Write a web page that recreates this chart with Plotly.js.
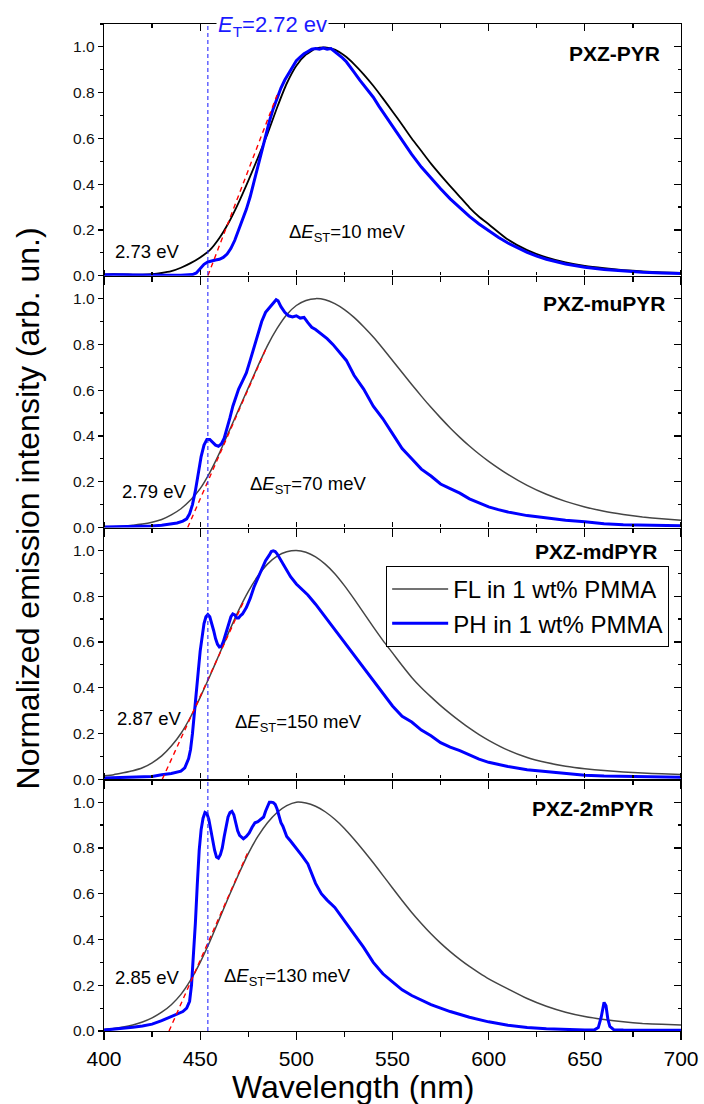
<!DOCTYPE html>
<html><head><meta charset="utf-8">
<script src="https://cdn.plot.ly/plotly-3.0.1.min.js"></script>
<style>html,body{margin:0;padding:0;background:#fff}#chart{width:704px;height:1104px}</style>
</head><body><div id="chart"></div>
<script>
// ---------- data ----------
const panelNames = ['PXZ-PYR', 'PXZ-muPYR', 'PXZ-mdPYR', 'PXZ-2mPYR'];
const onsetLabels = ['2.73 eV', '2.79 eV', '2.87 eV', '2.85 eV'];
const deltaEstMeV = ['10', '70', '150', '130'];
const tripletLabel = '2.72 ev';
const tripletNm = [454];
const legendNames = ['FL in 1 wt% PMMA', 'PH in 1 wt% PMMA'];

const flWl = [400,405,410,415,420,425,430,435,440,445,450,455,460,465,470,475,480,485,490,495,500,505,510,515,520,525,530,535,540,545,550,555,560,565,570,575,580,585,590,595,600,610,620,630,640,650,660,670,680,690,700];
const fl1 = [0.005,0.007,0.006,0.005,0.005,0.007,0.012,0.020,0.035,0.055,0.080,0.112,0.165,0.235,0.320,0.415,0.515,0.620,0.735,0.840,0.918,0.966,0.992,0.998,0.988,0.962,0.925,0.880,0.830,0.775,0.718,0.660,0.600,0.545,0.490,0.440,0.392,0.345,0.298,0.258,0.225,0.158,0.112,0.080,0.058,0.043,0.033,0.025,0.019,0.015,0.012];
const fl2 = [0.002,0.003,0.005,0.010,0.015,0.023,0.035,0.055,0.082,0.120,0.170,0.240,0.325,0.420,0.515,0.610,0.705,0.795,0.870,0.930,0.970,0.992,1.000,0.995,0.978,0.952,0.918,0.877,0.832,0.782,0.730,0.677,0.625,0.574,0.525,0.479,0.435,0.394,0.356,0.321,0.289,0.232,0.184,0.145,0.114,0.090,0.071,0.057,0.046,0.038,0.032];
const fl3 = [0.015,0.020,0.028,0.037,0.050,0.072,0.102,0.145,0.200,0.272,0.358,0.450,0.547,0.645,0.738,0.820,0.888,0.940,0.975,0.994,1.000,0.992,0.972,0.940,0.898,0.846,0.788,0.727,0.666,0.607,0.552,0.497,0.445,0.400,0.360,0.322,0.287,0.254,0.223,0.195,0.170,0.127,0.095,0.073,0.057,0.046,0.038,0.032,0.027,0.024,0.021];
const fl4 = [0.007,0.011,0.017,0.026,0.039,0.057,0.082,0.115,0.160,0.222,0.300,0.390,0.490,0.590,0.685,0.775,0.850,0.910,0.955,0.985,1.000,0.996,0.982,0.958,0.925,0.885,0.838,0.788,0.735,0.680,0.625,0.570,0.518,0.470,0.425,0.384,0.347,0.313,0.282,0.254,0.228,0.184,0.142,0.108,0.082,0.063,0.050,0.040,0.033,0.029,0.026];

const ph1Wl = [400,405,410,415,420,425,430,435,440,444,446,448,450,452,454,456,458,460,462,464,466,468,470,472,474,476,478,480,482,484,486,488,490,492,494,496,498,500,502,504,506,508,510,512,514,516,518,520,522,524,526,528,530,533,536,540,543,546,550,553,556,560,565,570,575,580,585,590,595,600,605,610,615,620,625,630,640,650,660,670,680,690,700];
const ph1 = [0.004,0.005,0.004,0.003,0.002,0.002,0.002,0.002,0.002,0.003,0.005,0.012,0.033,0.050,0.060,0.066,0.069,0.072,0.080,0.095,0.120,0.155,0.200,0.245,0.290,0.345,0.410,0.480,0.550,0.615,0.675,0.730,0.780,0.820,0.855,0.885,0.915,0.940,0.955,0.970,0.980,0.990,0.993,0.990,0.995,0.990,0.993,0.980,0.968,0.952,0.935,0.915,0.890,0.855,0.822,0.780,0.740,0.703,0.655,0.615,0.578,0.530,0.475,0.425,0.380,0.336,0.296,0.259,0.226,0.196,0.168,0.143,0.121,0.102,0.086,0.072,0.051,0.037,0.027,0.020,0.015,0.012,0.010];

const ph2Wl = [400,410,420,425,430,435,438,441,443,444.5,446,447.5,449,450.5,452,453.5,455,456.5,458,459.5,461,462.5,464,465.5,467,468.5,470,472,474,476,478,480,482,484,486,488,489.5,490.5,492,494,496,498,500,502,504,506,508,510,513,516,519,522,526,530,535,540,545,550,555,560,565,570,575,580,585,590,595,600,605,610,620,630,640,650,660,670,680,690,700];
const ph2 = [0.002,0.003,0.005,0.007,0.010,0.015,0.020,0.028,0.038,0.060,0.100,0.160,0.240,0.310,0.360,0.385,0.385,0.370,0.360,0.355,0.365,0.390,0.430,0.480,0.530,0.570,0.605,0.640,0.675,0.730,0.790,0.850,0.900,0.940,0.960,0.975,0.995,0.990,0.965,0.940,0.925,0.920,0.925,0.915,0.918,0.895,0.875,0.865,0.845,0.825,0.800,0.770,0.730,0.665,0.605,0.530,0.475,0.410,0.345,0.300,0.255,0.225,0.190,0.170,0.150,0.125,0.107,0.090,0.078,0.068,0.052,0.041,0.032,0.025,0.016,0.012,0.010,0.009,0.008];

const ph3Wl = [400,410,420,425,430,435,440,442,444,445,446,447,448,449,450,451,452,453,454,455,456,457,458,459,460,461,462,463,464,465,466,467,468,469,470,471,472,474,476,478,480,482,484,486,487,488,489,490,491,493,495,497,500,503,506,510,515,520,525,530,535,540,545,550,555,560,565,570,575,580,585,590,595,600,610,620,630,640,650,660,670,680,690,700];
const ph3 = [0.006,0.008,0.010,0.012,0.020,0.025,0.035,0.050,0.090,0.130,0.200,0.280,0.370,0.470,0.560,0.630,0.680,0.710,0.720,0.710,0.685,0.650,0.615,0.590,0.578,0.580,0.600,0.625,0.650,0.680,0.710,0.722,0.718,0.705,0.705,0.715,0.722,0.750,0.790,0.840,0.880,0.920,0.955,0.980,0.995,0.998,0.995,0.985,0.970,0.940,0.910,0.885,0.853,0.830,0.805,0.765,0.710,0.655,0.595,0.545,0.490,0.435,0.375,0.320,0.275,0.250,0.215,0.190,0.160,0.140,0.125,0.105,0.088,0.074,0.056,0.042,0.033,0.024,0.018,0.014,0.012,0.011,0.010,0.009];

const ph4Wl = [400,410,415,420,425,430,435,438,441,443,444.5,445.5,446.5,447.5,448.5,449.5,450.5,451.5,452.5,453.5,454.5,455.5,456.5,457.5,458.5,459.5,460.5,461.5,462.5,463.5,464.5,465.5,466.5,467.5,468.5,469.5,470.5,471.5,472.5,474,475.5,477,478.5,480,481.5,483,484,485,486,487,488,489,490,491,492,493,494,495,497,500,503,506,508,510,513,516,520,523,526,530,535,540,545,550,555,560,565,570,575,580,590,600,610,620,630,640,650,655,657,658.5,660,661,662,663,665,670,680,690,700];
const ph4 = [0.004,0.010,0.016,0.022,0.030,0.045,0.062,0.072,0.085,0.100,0.130,0.200,0.320,0.470,0.640,0.790,0.880,0.930,0.955,0.950,0.925,0.880,0.830,0.790,0.760,0.755,0.770,0.800,0.850,0.900,0.935,0.955,0.960,0.945,0.910,0.875,0.855,0.845,0.840,0.850,0.865,0.890,0.910,0.915,0.925,0.935,0.960,0.985,1.000,1.000,0.998,0.990,0.970,0.940,0.910,0.895,0.870,0.850,0.830,0.800,0.765,0.730,0.690,0.645,0.600,0.572,0.540,0.505,0.470,0.420,0.365,0.300,0.250,0.215,0.180,0.155,0.135,0.115,0.100,0.085,0.060,0.040,0.025,0.015,0.010,0.006,0.004,0.005,0.015,0.060,0.125,0.110,0.050,0.020,0.006,0.004,0.004,0.003,0.003];

const tangentX = [[454, 490], [443.5, 484.5], [430.3, 472.5], [433.8, 475]];
const tangentY = [[0, 0.79], [0, 0.787], [0, 0.775], [0, 0.785]];

// ---------- build ----------
const flSets = [fl1, fl2, fl3, fl4];
const phX = [ph1Wl, ph2Wl, ph3Wl, ph4Wl];
const phY = [ph1, ph2, ph3, ph4];
const flColors = ['#000000', '#454545', '#454545', '#454545'];
const flWidths = [1.8, 1.5, 1.5, 1.5];
const FONT = 'Liberation Sans, Arial, Helvetica, sans-serif';
const ax = i => (i === 0 ? '' : String(i + 1));

const traces = [];
for (let i = 0; i < 4; i++) {
  const xa = 'x' + ax(i), ya = 'y' + ax(i);
  const leg = (i === 2);
  traces.push({type: 'scatter', mode: 'lines', x: flWl, y: flSets[i], xaxis: xa, yaxis: ya,
    name: legendNames[0], showlegend: leg, legendrank: 1,
    line: {color: flColors[i], width: flWidths[i], shape: 'spline', smoothing: 0.5}, hoverinfo: 'skip'});
  traces.push({type: 'scatter', mode: 'lines', x: phX[i], y: phY[i], xaxis: xa, yaxis: ya,
    name: legendNames[1], showlegend: leg, legendrank: 2,
    line: {color: '#0000ff', width: 3}, hoverinfo: 'skip'});
  traces.push({type: 'scatter', mode: 'lines', x: tangentX[i], y: tangentY[i], xaxis: xa, yaxis: ya,
    showlegend: false, line: {color: '#ff0000', width: 1.4, dash: '5px,4px'}, hoverinfo: 'skip'});
}
// empty traces carrying the overlay axes (right-side y ticks, top x ticks)
for (let i = 0; i < 4; i++) {
  traces.push({type: 'scatter', x: [], y: [], xaxis: 'x' + ax(i), yaxis: 'y' + (i + 5), showlegend: false, hoverinfo: 'skip'});
  traces.push({type: 'scatter', x: [], y: [], xaxis: 'x' + (i + 5), yaxis: 'y' + ax(i), showlegend: false, hoverinfo: 'skip'});
}

const layout = {
  width: 704, height: 1104,
  margin: {l: 104, r: 23, t: 24, b: 73},
  paper_bgcolor: '#fff', plot_bgcolor: '#fff',
  font: {family: FONT, color: '#000'},
  showlegend: true,
  legend: {x: 0.489, y: 0.4618, xanchor: 'left', yanchor: 'top', bgcolor: '#fff',
    bordercolor: '#000', borderwidth: 1, font: {size: 24, family: FONT, color: '#000'},
    traceorder: 'normal', itemwidth: 56, tracegroupgap: 0},
  annotations: [], shapes: []
};

const domains = [[0.75, 1], [0.5, 0.75], [0.25, 0.5], [0, 0.25]];
for (let i = 0; i < 4; i++) {
  layout['xaxis' + ax(i)] = {
    domain: [0, 1], anchor: 'y' + ax(i), range: [400, 700],
    showline: true, linecolor: '#000', linewidth: 1.3,
    ticks: 'outside', ticklen: 8, tickwidth: 1.2, tickcolor: '#000', tick0: 400, dtick: 50,
    minor: {dtick: 25, ticks: 'outside', ticklen: 4.5, tickwidth: 1.2, tickcolor: '#000'},
    mirror: i === 0,
    showgrid: false, zeroline: false, fixedrange: true,
    showticklabels: i === 3, tickfont: {size: 21, family: FONT, color: '#000'}
  };
  layout['xaxis' + (i + 5)] = {
    overlaying: 'x' + ax(i), side: 'top', anchor: 'y' + ax(i), range: [400, 700],
    showline: false, showgrid: false, zeroline: false, showticklabels: false,
    ticks: i === 0 ? 'inside' : 'outside', ticklen: i === 0 ? 7 : 5, tickwidth: 1.2, tickcolor: '#000', tick0: 400, dtick: 50,
    minor: {dtick: 25, ticks: i === 0 ? 'inside' : 'outside', ticklen: i === 0 ? 4 : 3, tickwidth: 1.2, tickcolor: '#000'},
    fixedrange: true
  };
  layout['yaxis' + ax(i)] = {
    domain: domains[i], anchor: 'x' + ax(i), range: [0, 1.1],
    showline: true, linecolor: '#000', linewidth: 1.3, mirror: true,
    ticks: 'outside', ticklen: 5, tickwidth: 1.2, tickcolor: '#000', tick0: 0, dtick: 0.2, tickformat: '.1f',
    minor: {dtick: 0.1, ticks: 'outside', ticklen: 3, tickwidth: 1.2, tickcolor: '#000'},
    showgrid: false, zeroline: false, fixedrange: true,
    tickfont: {size: 15.5, family: FONT, color: '#111'}
  };
  layout['yaxis' + (i + 5)] = {
    overlaying: 'y' + ax(i), side: 'right', anchor: 'x' + ax(i),
    range: [0, 1.1], showline: false, showgrid: false, zeroline: false, showticklabels: false,
    ticks: 'inside', ticklen: 7, tickwidth: 1.2, tickcolor: '#000', tick0: 0, dtick: 0.2,
    minor: {dtick: 0.1, ticks: 'inside', ticklen: 3.5, tickwidth: 1.2, tickcolor: '#000'}, fixedrange: true
  };
}

layout.shapes.push({type: 'line', xref: 'x', yref: 'paper', x0: tripletNm[0], x1: tripletNm[0], y0: 0, y1: 1,
  line: {color: '#2a2aff', width: 1.1, dash: '4px,3px'}, layer: 'above'});

const nameX = [0.967, 0.9775, 0.9636, 0.955];
const nameY = [0.9712, 0.7229, 0.4757, 0.2214];
const onX = [0.0156, 0.0277, 0.019, 0.0156];
const onY = [0.7736, 0.5353, 0.3108, 0.0536];
const dX = [0.3172, 0.2496, 0.2236, 0.2045];
const dY = [0.7924, 0.5422, 0.3058, 0.0536];
for (let i = 0; i < 4; i++) {
  layout.annotations.push({xref: 'paper', yref: 'paper', x: nameX[i], y: nameY[i], xanchor: 'right', yanchor: 'middle',
    text: '<b>' + panelNames[i] + '</b>', showarrow: false, font: {size: 21, family: FONT, color: '#000'}});
  layout.annotations.push({xref: 'paper', yref: 'paper', x: onX[i], y: onY[i], xanchor: 'left', yanchor: 'middle',
    text: onsetLabels[i], showarrow: false, font: {size: 18.5, family: FONT, color: '#000'}});
  layout.annotations.push({xref: 'paper', yref: 'paper', x: dX[i], y: dY[i], xanchor: 'left', yanchor: 'middle',
    text: 'Δ<i>E</i><sub>ST</sub>=' + deltaEstMeV[i] + ' meV', showarrow: false, font: {size: 18.5, family: FONT, color: '#000'}});
}
layout.annotations.push({xref: 'paper', yref: 'paper', x: 0.2912, y: 1.0, xanchor: 'center', yanchor: 'middle', yshift: -2,
  text: '<i>E</i><sub>T</sub>=' + tripletLabel, showarrow: false, bgcolor: '#fff', borderpad: 1,
  font: {size: 22, family: FONT, color: '#1a1aff'}});
layout.annotations.push({xref: 'paper', yref: 'paper', x: 0.4315, y: -0.0556, xanchor: 'center', yanchor: 'middle',
  text: 'Wavelength (nm)', showarrow: false, font: {size: 32, family: FONT, color: '#000'}});
layout.annotations.push({xref: 'paper', yref: 'paper', x: -0.1317, y: 0.519, xanchor: 'center', yanchor: 'middle',
  textangle: -90, text: 'Normalized emission intensity (arb. un.)', showarrow: false,
  font: {size: 32, family: FONT, color: '#000'}});

Plotly.newPlot('chart', traces, layout, {staticPlot: true, displayModeBar: false});
</script>
</body></html>
